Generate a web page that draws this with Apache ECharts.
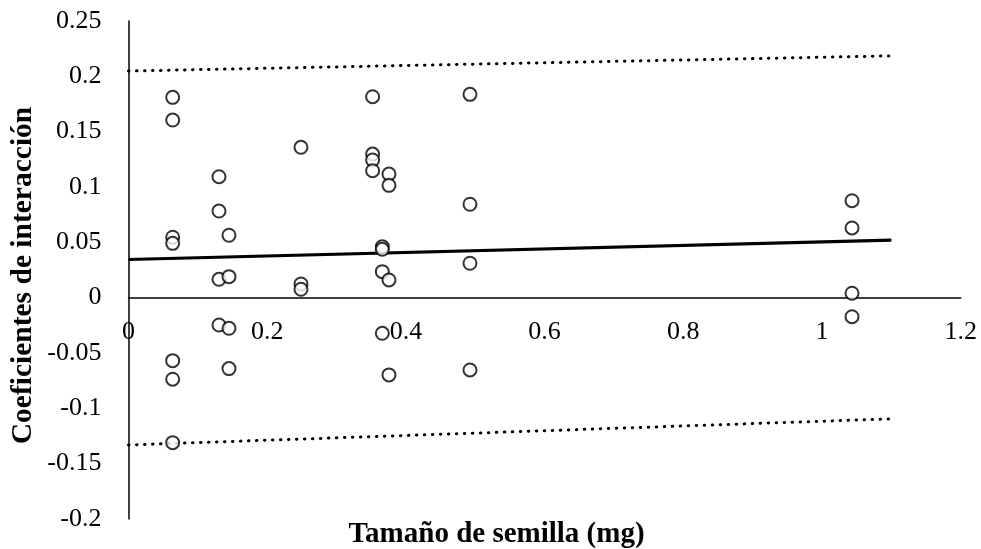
<!DOCTYPE html>
<html>
<head>
<meta charset="utf-8">
<script src="https://cdn.jsdelivr.net/npm/echarts@6/dist/echarts.min.js"></script>
<style>
  html, body { margin: 0; padding: 0; background: #fff; }
  #chart { width: 981px; height: 549px; }
</style>
</head>
<body>
<div id="chart"></div>
<script>
// Seed size (mg) per observation and its interaction coefficient
const seedSize = [
  0.0637, 0.0637, 0.0637, 0.0637, 0.0637, 0.0637, 0.0637,
  0.1305, 0.1305, 0.1305, 0.1305,
  0.1449, 0.1449, 0.1449, 0.1449,
  0.2487, 0.2487, 0.2487,
  0.352, 0.352, 0.352, 0.352,
  0.366, 0.366, 0.366, 0.366,
  0.3756, 0.3756, 0.3756, 0.3756,
  0.4924, 0.4924, 0.4924, 0.4924,
  1.0433, 1.0433, 1.0433, 1.0433
];
const coefficient = [
  0.181, 0.1605, 0.0546, 0.0491, -0.0569, -0.0737, -0.131,
  0.1093, 0.0783, 0.0166, -0.0247,
  0.0564, 0.019, -0.0277, -0.0641,
  0.1359, 0.0124, 0.0076,
  0.1816, 0.1298, 0.1244, 0.1147,
  0.0461, 0.0437, 0.0235, -0.0322,
  0.1117, 0.1015, 0.016, -0.0698,
  0.1837, 0.0844, 0.0311, -0.0653,
  0.0876, 0.063, 0.004, -0.0172
];

// Fitted line and its upper / lower bands (end points)
const fitX = [0, 1.1];
const fitY = [0.0345, 0.052];
const upperY = [0.2048, 0.2185];
const lowerY = [-0.1331, -0.1095];

// Axis tick labels
const xTickLabels = ['0', '0.2', '0.4', '0.6', '0.8', '1', '1.2'];
const yTickLabels = ['-0.2', '-0.15', '-0.1', '-0.05', '0', '0.05', '0.1', '0.15', '0.2', '0.25'];

const pts = seedSize.map((x, i) => [x, coefficient[i]]);
const pair = ys => fitX.map((x, i) => [x, ys[i]]);

const serif = '"Liberation Serif", "DejaVu Serif", serif';
const labelFor = (list, v) => {
  const hit = list.find(s => Math.abs(parseFloat(s) - v) < 1e-6);
  return hit === undefined ? '' : hit;
};

// Plot box and the y range; the x axis (line and labels) sits at y = 0
const gridTop = 21, gridBottom = 30, chartH = 549;
const yMin = -0.2, yMax = 0.25;
const plotH = chartH - gridTop - gridBottom;
const zeroShift = plotH * (0 - yMin) / (yMax - yMin);

const chart = echarts.init(document.getElementById('chart'), null, { renderer: 'canvas' });
chart.setOption({
  animation: false,
  backgroundColor: '#ffffff',
  grid: { left: 128.5, right: 20.3, top: gridTop, bottom: gridBottom },
  xAxis: {
    type: 'value',
    min: 0, max: 1.2, interval: 0.2,
    offset: -zeroShift,
    axisLine: { show: true, onZero: false, lineStyle: { color: '#000', width: 1.5 } },
    axisTick: { show: false },
    splitLine: { show: false },
    axisLabel: {
      color: '#000', fontFamily: serif, fontSize: 26, margin: 22,
      formatter: v => labelFor(xTickLabels, v)
    }
  },
  yAxis: {
    type: 'value',
    min: yMin, max: yMax, interval: 0.05,
    axisLine: { show: true, lineStyle: { color: '#000', width: 1.5 } },
    axisTick: { show: false },
    splitLine: { show: false },
    axisLabel: {
      color: '#000', fontFamily: serif, fontSize: 26, margin: 27,
      formatter: v => labelFor(yTickLabels, v)
    }
  },
  graphic: [
    {
      type: 'text', x: 496.5, y: 535,
      style: {
        text: 'Tamaño de semilla (mg)', fill: '#000',
        font: 'bold 29px ' + serif, align: 'center', verticalAlign: 'middle'
      }
    },
    {
      type: 'text', x: 23, y: 275.5, rotation: Math.PI / 2,
      style: {
        text: 'Coeficientes de interacción', fill: '#000',
        font: 'bold 29.5px ' + serif, align: 'center', verticalAlign: 'middle'
      }
    }
  ],
  series: [
    {
      type: 'line', data: pair(upperY), symbol: 'none', z: 2,
      lineStyle: { color: '#000', width: 3, type: [0.5, 7.5], cap: 'round' }
    },
    {
      type: 'line', data: pair(lowerY), symbol: 'none', z: 2,
      lineStyle: { color: '#000', width: 3, type: [0.5, 7.5], cap: 'round' }
    },
    {
      type: 'line', data: pair(fitY), symbol: 'none', z: 2,
      lineStyle: { color: '#000', width: 3.2 }
    },
    {
      type: 'scatter', data: pts, symbol: 'circle', symbolSize: 13, z: 5,
      itemStyle: { color: '#fff', borderColor: '#000', borderWidth: 2 }
    }
  ]
});
</script>
</body>
</html>
